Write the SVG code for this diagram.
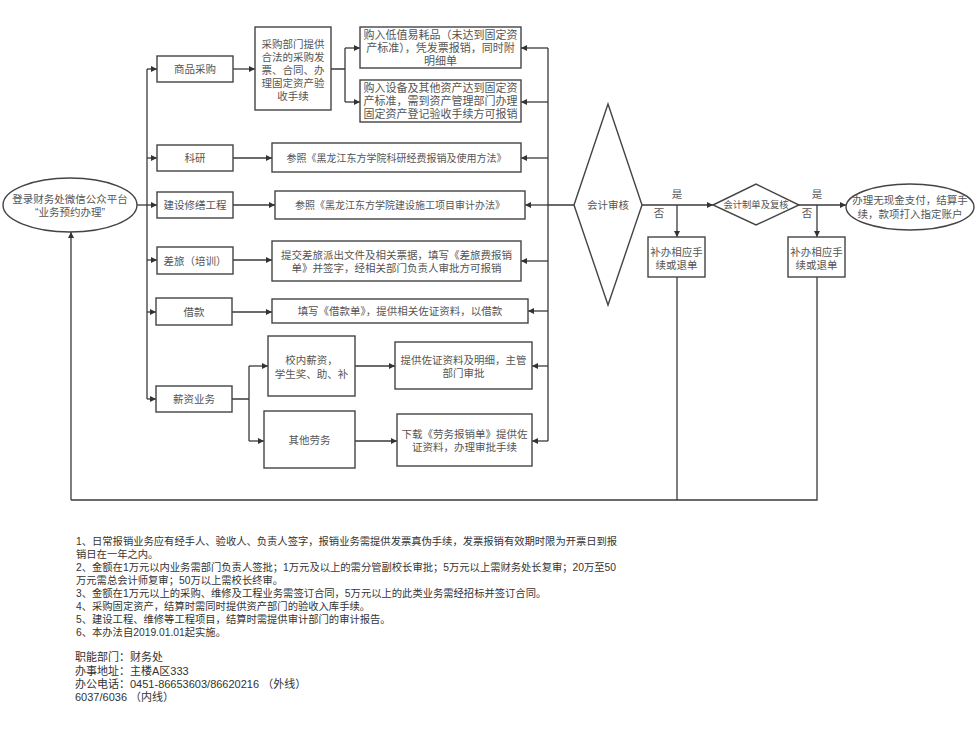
<svg xmlns="http://www.w3.org/2000/svg" width="980" height="732" viewBox="0 0 980 732">
<defs>
<marker id="ah" viewBox="0 0 10 10" refX="10" refY="5" markerWidth="8" markerHeight="6" markerUnits="userSpaceOnUse" orient="auto">
<path d="M0,0 L10,5 L0,10 z" fill="#333"/>
</marker>
<style>
.bx{fill:#fff;stroke:#444;stroke-width:1.4}
.t{font-family:"Liberation Sans","Noto Sans CJK SC",sans-serif;font-size:10.5px;fill:#555;text-anchor:middle;dominant-baseline:central}
.s{font-size:10px}
.l{font-size:11px}
.n{font-family:"Liberation Sans","Noto Sans CJK SC",sans-serif;font-size:10.3px;fill:#333;dominant-baseline:central}
.f{font-size:11px}
.c{fill:none;stroke:#3a3a3a;stroke-width:1.3}
.a{fill:none;stroke:#3a3a3a;stroke-width:1.3;marker-end:url(#ah)}
</style>
</defs>
<rect width="980" height="732" fill="#fff"/>

<g id="connectors">
<path class="c" d="M137,205 H147"/>
<path class="c" d="M147,69 V399"/>
<path class="a" d="M147,69 H157"/>
<path class="a" d="M147,158 H157"/>
<path class="a" d="M147,205 H157"/>
<path class="a" d="M147,260 H157"/>
<path class="a" d="M147,312 H156"/>
<path class="a" d="M147,399 H156"/>
<path class="a" d="M233,69 H255"/>
<path class="c" d="M331,69 H345 M345,48 V102"/>
<path class="a" d="M345,48 H360"/>
<path class="a" d="M345,102 H360"/>
<path class="a" d="M233,158 H272"/>
<path class="a" d="M233,205 H275"/>
<path class="a" d="M233,260 H272"/>
<path class="a" d="M232,312 H272"/>
<path class="c" d="M232,399 H249 M249,366 V441"/>
<path class="a" d="M249,366 H268"/>
<path class="a" d="M249,441 H264"/>
<path class="a" d="M355,366 H395"/>
<path class="a" d="M355,441 H397"/>
<path class="c" d="M548,48 V441 M548,205 H574"/>
<path class="a" d="M548,48 H521"/>
<path class="a" d="M548,102 H521"/>
<path class="a" d="M548,158 H521"/>
<path class="a" d="M548,205 H525"/>
<path class="a" d="M548,261 H521"/>
<path class="a" d="M548,311 H528"/>
<path class="a" d="M548,366 H532"/>
<path class="a" d="M548,441 H532"/>
<path class="a" d="M642,205 H713"/>
<path class="a" d="M677,205 V237"/>
<path class="a" d="M799,205 H846"/>
<path class="a" d="M817,205 V237"/>
<path class="c" d="M677,277 V500 M817,277 V500 H71"/>
<path class="a" d="M71,500 V232"/>
<text class="t" x="677" y="194">是</text>
<text class="t" x="659" y="213">否</text>
<text class="t" x="817" y="194">是</text>
<text class="t" x="807" y="213">否</text>
</g>

<g id="start">
<ellipse class="bx" cx="70" cy="205" rx="67" ry="27"/>
<text class="t" x="70" y="199">登录财务处微信公众平台</text>
<text class="t" x="70" y="212">“业务预约办理”</text>
</g>

<g id="spcg">
<rect class="bx" x="157" y="56" width="76" height="26"/>
<text class="t" x="195" y="69">商品采购</text>
</g>
<g id="cgbm">
<rect class="bx" x="255" y="27" width="76" height="83"/>
<text class="t" x="293" y="44">采购部门提供</text>
<text class="t" x="293" y="57">合法的采购发</text>
<text class="t" x="293" y="70">票、合同、办</text>
<text class="t" x="293" y="83">理固定资产验</text>
<text class="t" x="293" y="96">收手续</text>
</g>
<g id="dzyh">
<rect class="bx" x="360" y="27" width="161" height="41"/>
<text class="t l" x="440.5" y="34.5">购入低值易耗品（未达到固定资</text>
<text class="t l" x="440.5" y="47.5">产标准），凭发票报销，同时附</text>
<text class="t l" x="440.5" y="60.5">明细单</text>
</g>
<g id="gdzc">
<rect class="bx" x="360" y="80" width="161" height="42"/>
<text class="t l" x="440.5" y="88">购入设备及其他资产达到固定资</text>
<text class="t l" x="440.5" y="101">产标准，需到资产管理部门办理</text>
<text class="t l" x="440.5" y="114">固定资产登记验收手续方可报销</text>
</g>

<g id="ky">
<rect class="bx" x="157" y="145" width="76" height="26"/>
<text class="t" x="195" y="158">科研</text>
</g>
<g id="ky2">
<rect class="bx" x="272" y="143" width="249" height="29"/>
<text class="t s" x="396.5" y="158">参照《黑龙江东方学院科研经费报销及使用方法》</text>
</g>

<g id="jsxs">
<rect class="bx" x="157" y="192" width="76" height="26"/>
<text class="t" x="195" y="205">建设修缮工程</text>
</g>
<g id="jsxs2">
<rect class="bx" x="275" y="191" width="250" height="28"/>
<text class="t s" x="400" y="205">参照《黑龙江东方学院建设施工项目审计办法》</text>
</g>

<g id="cl">
<rect class="bx" x="157" y="247" width="76" height="27"/>
<text class="t" x="195" y="260.5">差旅（培训）</text>
</g>
<g id="cl2">
<rect class="bx" x="272" y="241" width="249" height="40"/>
<text class="t" x="396.5" y="254.5">提交差旅派出文件及相关票据，填写《差旅费报销</text>
<text class="t" x="396.5" y="267.5">单》并签字，经相关部门负责人审批方可报销</text>
</g>

<g id="jk">
<rect class="bx" x="156" y="298" width="76" height="27"/>
<text class="t" x="194" y="311.5">借款</text>
</g>
<g id="jk2">
<rect class="bx" x="272" y="299" width="256" height="24"/>
<text class="t" x="400" y="311">填写《借款单》，提供相关佐证资料，以借款</text>
</g>

<g id="xz">
<rect class="bx" x="156" y="386" width="76" height="26"/>
<text class="t" x="194" y="399">薪资业务</text>
</g>
<g id="xnxz">
<rect class="bx" x="268" y="336" width="87" height="60"/>
<text class="t" x="311.5" y="360">校内薪资，</text>
<text class="t" x="311.5" y="374">学生奖、助、补</text>
</g>
<g id="qtlw">
<rect class="bx" x="264" y="411" width="91" height="57"/>
<text class="t" x="309.5" y="440">其他劳务</text>
</g>
<g id="tgzz">
<rect class="bx" x="395" y="342" width="137" height="47"/>
<text class="t" x="463.5" y="360">提供佐证资料及明细，主管</text>
<text class="t" x="463.5" y="373">部门审批</text>
</g>
<g id="xzlw">
<rect class="bx" x="397" y="414" width="135" height="52"/>
<text class="t" x="464.5" y="434">下载《劳务报销单》提供佐</text>
<text class="t" x="464.5" y="447">证资料，办理审批手续</text>
</g>

<g id="kjsh">
<polygon class="bx" points="574,205 608,104 642,205 608,305"/>
<text class="t" x="608" y="205">会计审核</text>
</g>
<g id="kjzd">
<polygon class="bx" points="713,205 756,184 799,205 756,225"/>
<text class="t" x="756" y="205" style="font-size:9.3px">会计制单及复核</text>
</g>
<g id="bb1">
<rect class="bx" x="648" y="237" width="57" height="40"/>
<text class="t" x="676.5" y="252">补办相应手</text>
<text class="t" x="676.5" y="265">续或退单</text>
</g>
<g id="bb2">
<rect class="bx" x="788" y="237" width="57" height="40"/>
<text class="t" x="816.5" y="252">补办相应手</text>
<text class="t" x="816.5" y="265">续或退单</text>
</g>
<g id="end">
<ellipse class="bx" cx="910" cy="207" rx="64" ry="23"/>
<text class="t" x="910" y="200">办理无现金支付，结算手</text>
<text class="t" x="910" y="214">续，款项打入指定账户</text>
</g>

<g id="notes">
<text class="n" x="76" y="541">1、日常报销业务应有经手人、验收人、负责人签字，报销业务需提供发票真伪手续，发票报销有效期时限为开票日到报</text>
<text class="n" x="76" y="554">销日在一年之内。</text>
<text class="n" x="76" y="567">2、金额在1万元以内业务需部门负责人签批；1万元及以上的需分管副校长审批；5万元以上需财务处长复审；20万至50</text>
<text class="n" x="76" y="580">万元需总会计师复审；50万以上需校长终审。</text>
<text class="n" x="76" y="593">3、金额在1万元以上的采购、维修及工程业务需签订合同，5万元以上的此类业务需经招标并签订合同。</text>
<text class="n" x="76" y="606">4、采购固定资产，结算时需同时提供资产部门的验收入库手续。</text>
<text class="n" x="76" y="619">5、建设工程、维修等工程项目，结算时需提供审计部门的审计报告。</text>
<text class="n" x="76" y="632">6、本办法自2019.01.01起实施。</text>
<text class="n f" x="75" y="657">职能部门：财务处</text>
<text class="n f" x="75" y="671">办事地址：主楼A区333</text>
<text class="n f" x="75" y="684">办公电话：0451-86653603/86620216 （外线）</text>
<text class="n f" x="75" y="697">6037/6036 （内线）</text>
</g>
</svg>
